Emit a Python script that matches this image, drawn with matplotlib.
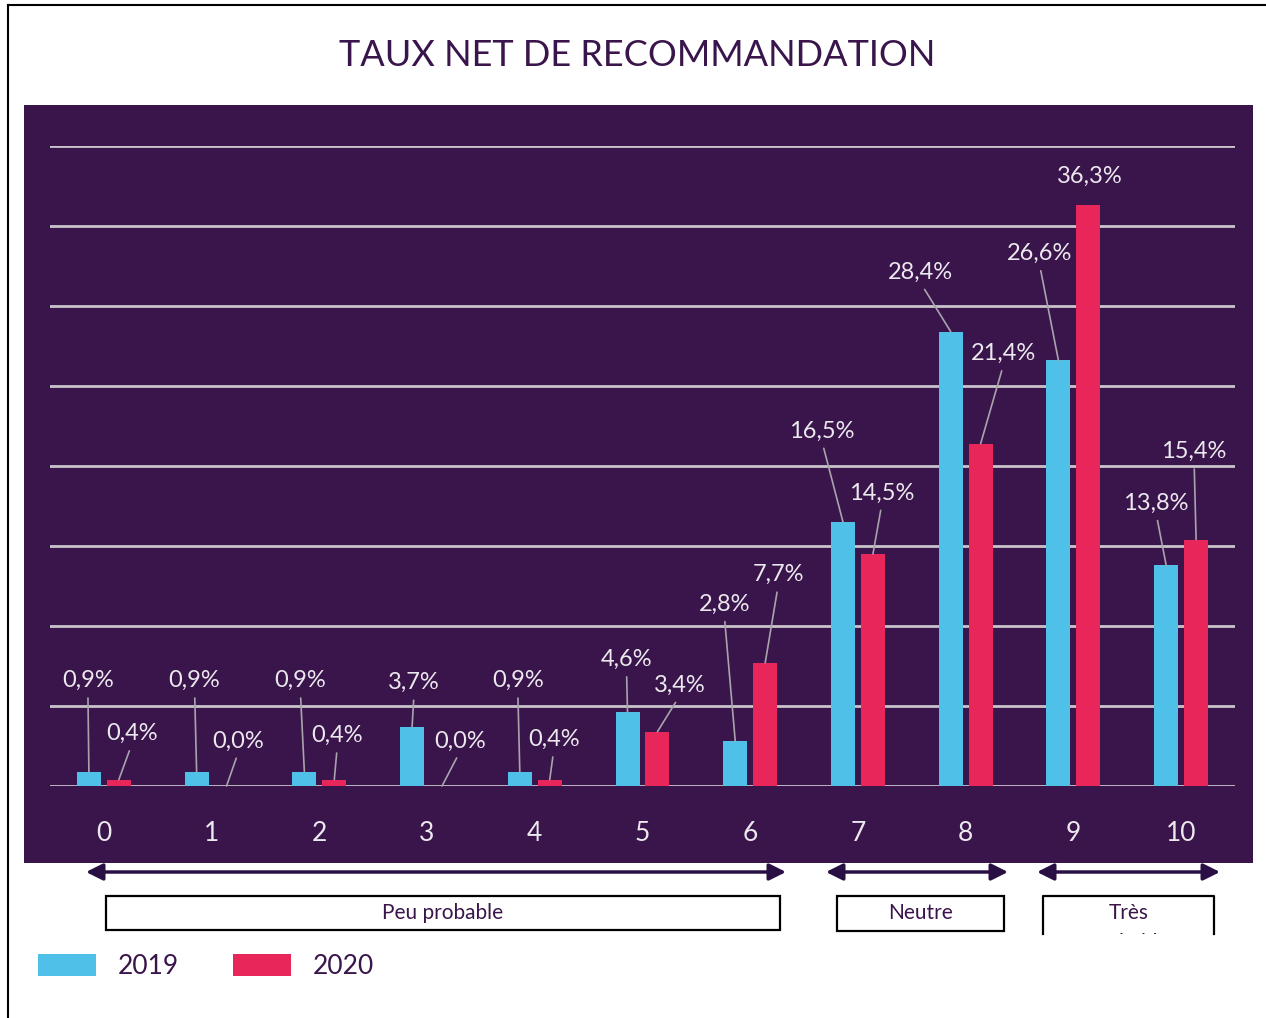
import matplotlib
matplotlib.use("Agg")
import matplotlib.pyplot as plt
from matplotlib.patches import Rectangle, FancyArrowPatch
from matplotlib.lines import Line2D
from matplotlib.transforms import Bbox
import numpy as np

plt.rcParams['font.family'] = ['Lato', 'DejaVu Sans']

# ---------------- data ----------------
categories = ["0", "1", "2", "3", "4", "5", "6", "7", "8", "9", "10"]
values_2019 = [0.9, 0.9, 0.9, 3.7, 0.9, 4.6, 2.8, 16.5, 28.4, 26.6, 13.8]
values_2020 = [0.4, 0.0, 0.4, 0.0, 0.4, 3.4, 7.7, 14.5, 21.4, 36.3, 15.4]
series_names = ["2019", "2020"]
title = "TAUX NET DE RECOMMANDATION"
groups = ["Peu probable", "Neutre", "Très\nprobable"]

# label offsets (pixels) from bar top, style only
off_2019 = [(-1, 91), (-2, 91), (-4, 91), (2, 44), (-2, 91), (-1, 53),
            (-11, 137), (-21, 91), (-30, 59), (-19, 107), (-10, 62)]
off_2020 = [(13, 46), (12, 45), (3, 44), (18, 45), (4, 40), (22, 46),
            (13, 88), (9, 61), (23, 90), (1, 29), (-2, 88)]

BLUE = "#4fc1e9"
RED = "#e8265a"
BG = "#3a154b"
DARK = "#2a0f45"
W, H = 1266, 1018

fig = plt.figure(figsize=(W / 100, H / 100), dpi=100)


def fx(x):
    return x / W


def fy(y):
    return 1 - y / H


# outer border lines
fig.add_artist(Line2D([fx(8), fx(8)], [fy(5), fy(1018)], color="black", lw=1.5))
fig.add_artist(Line2D([fx(8), fx(1266)], [fy(5), fy(5)], color="black", lw=1.5))

# background panel
fig.add_artist(Rectangle((fx(24), fy(863)), fx(1253) - fx(24), fy(105) - fy(863),
                         transform=fig.transFigure, facecolor=BG, edgecolor="none", zorder=0))

fig.text(fx(637), fy(56), title, ha="center", va="center", fontsize=26, color=BG)

ax = fig.add_axes([fx(50), fy(786), fx(1235) - fx(50), fy(146) - fy(786)])
ax.set_facecolor("none")
ax.patch.set_visible(False)

x = np.arange(len(categories))
bw = 0.223
off = 0.139
ax.bar(x - off, values_2019, bw, color=BLUE, zorder=3)
ax.bar(x + off, values_2020, bw, color=RED, zorder=3)

ax.set_xlim(-0.5, len(categories) - 0.5)
ax.set_ylim(0, 40)
ax.set_yticks(np.arange(0, 41, 5))
ax.yaxis.grid(True, color="#c8c4cc", lw=2.0, zorder=1)
ax.tick_params(axis="y", left=False, labelleft=False)
ax.tick_params(axis="x", bottom=False, labelsize=19, labelcolor="#ebe8ee", pad=22)
ax.set_xticks(x)
ax.set_xticklabels(categories)
for s in ax.spines.values():
    s.set_visible(False)


def fmt(v):
    return f"{v:.1f}%".replace(".", ",")


for vals, offs, xs in ((values_2019, off_2019, x - off), (values_2020, off_2020, x + off)):
    for xi, v, (dx, dy) in zip(xs, vals, offs):
        arrow = None
        if dy > 35:
            arrow = dict(arrowstyle="-", color="#a8a4ac", lw=1.2, shrinkA=3, shrinkB=0,
                         relpos=(0.5, 0))
        ax.annotate(fmt(v), xy=(xi, v), xytext=(dx, dy), textcoords="offset pixels",
                    ha="center", va="center", fontsize=17, color="#ebe8ee",
                    arrowprops=arrow, zorder=5, annotation_clip=False)

# range arrows
arrows = [(86, 786), (826, 1008), (1037, 1220)]
for a, b in arrows:
    fig.add_artist(FancyArrowPatch((fx(a), fy(872)), (fx(b), fy(872)),
                                   transform=fig.transFigure,
                                   arrowstyle="<|-|>,head_length=10,head_width=5",
                                   color=DARK, lw=2.5, shrinkA=0, shrinkB=0))

# group boxes
boxes = [(106, 780, 896, 930), (837, 1004, 896, 931)]
for (x0, x1, y0, y1), lab in zip(boxes, groups[:2]):
    fig.add_artist(Rectangle((fx(x0), fy(y1)), fx(x1) - fx(x0), fy(y0) - fy(y1),
                             transform=fig.transFigure, facecolor="none",
                             edgecolor="black", lw=1.6))
    fig.text(fx((x0 + x1) / 2), fy(913), lab, ha="center", va="center",
             fontsize=15, color=BG)

# clipped third box
x0, x1, y0, y1 = 1043, 1214, 896, 934
fig.add_artist(Line2D([fx(x0), fx(x0), fx(x1), fx(x1)], [fy(y1), fy(y0), fy(y0), fy(y1)],
                      color="black", lw=1.6))
t = fig.text(fx((x0 + x1) / 2), fy(903), groups[2], ha="center", va="top",
             fontsize=15, color=BG, linespacing=1.6)
t.set_clip_box(Bbox([[0, H - y1], [W, H]]))
t.set_clip_on(True)

# legend
for (lx, name, col) in ((38, series_names[0], BLUE), (233, series_names[1], RED)):
    fig.add_artist(Rectangle((fx(lx), fy(976)), fx(58), fy(954) - fy(976),
                             transform=fig.transFigure, facecolor=col, edgecolor="none"))
    fig.text(fx(lx + 80), fy(967), name, ha="left", va="center", fontsize=19, color=BG)

fig.savefig("out.png", dpi=100)
